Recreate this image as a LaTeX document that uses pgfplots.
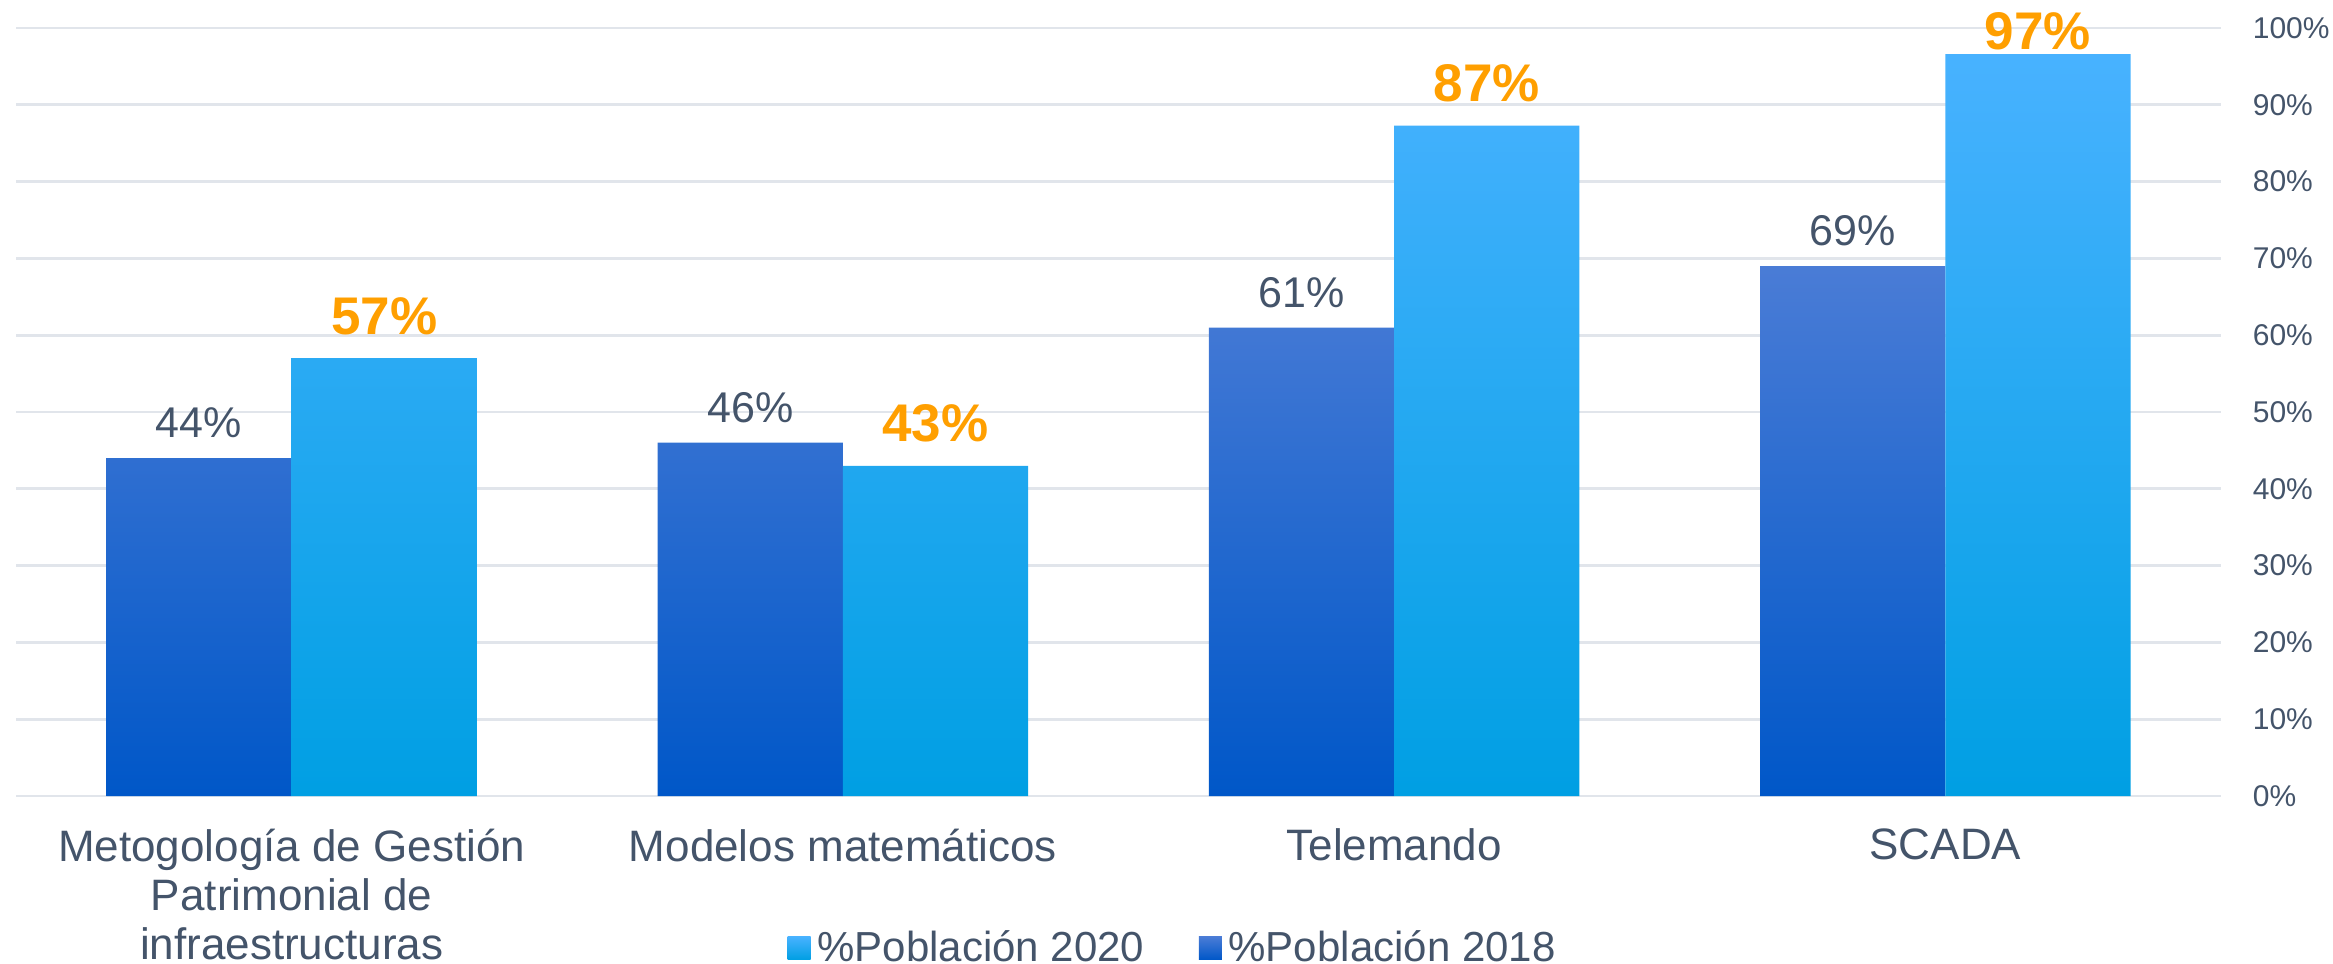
\documentclass[border=0pt]{standalone}
\usepackage{fontspec}
\setmainfont{Liberation Sans}
\usepackage{pgfplots}
\pgfplotsset{compat=1.18}

\definecolor{txt}{HTML}{44546A}
\definecolor{gridc}{HTML}{E1E5EB}
\definecolor{orange}{HTML}{FF9F00}
% 2018 bars (dark blue gradient)
\definecolor{dkTop}{HTML}{4A7CD6}
\definecolor{dkMid}{HTML}{0A67D4}
\definecolor{dkBot}{HTML}{0057C8}
% 2020 bars (light blue gradient)
\definecolor{ltTop}{HTML}{48B2FF}
\definecolor{ltMid}{HTML}{00AEFF}
\definecolor{ltBot}{HTML}{009FE3}

\begin{document}
\begin{tikzpicture}
\begin{axis}[
    scale only axis,
    width=661.5pt, height=230.4pt,
    ybar, bar width=0.336,
    xmin=-0.5, xmax=3.5,
    ymin=0, ymax=100,
    enlargelimits=false,
    clip=false,
    axis x line*=bottom, axis y line*=right,
    axis line style={draw=none},
    major tick length=0pt,
    ymajorgrids=true,
    grid style={color=gridc, line width=0.8pt},
    ytick={0,10,20,30,40,50,60,70,80,90,100},
    yticklabels={0\%,10\%,20\%,30\%,40\%,50\%,60\%,70\%,80\%,90\%,100\%},
    yticklabel style={font=\fontsize{9}{10.8}\selectfont, text=txt, xshift=6pt},
    xtick={0,1,2,3},
    xticklabels={{Metogología de Gestión\\Patrimonial de\\infraestructuras},
                 {Modelos matemáticos}, {Telemando}, {SCADA}},
    xticklabel style={align=center, text=txt,
        font=\fontsize{13.2}{14.7}\selectfont, yshift=-6.3pt},
    /pgf/number format/assume math mode=true,
    /pgf/number format/fixed, /pgf/number format/precision=0,
    nodes near coords={\pgfmathprintnumber{\pgfplotspointmeta}\%},
    legend columns=2,
    reverse legend,
    legend style={at={(0.5256,-0.231)}, anchor=south, draw=none, fill=none,
        inner sep=0pt, font=\fontsize{12.6}{14}\selectfont, text=txt,
        /tikz/every even column/.append style={column sep=14.4pt}},
    legend image code/.code={
        \path[#1] (0pt,-3.45pt) rectangle (6.9pt,3.45pt);
    },
]
\coordinate (bl) at (rel axis cs:0,0);
\coordinate (tr) at (rel axis cs:1,1);

\addplot[draw=none, bar shift=-0.168,
    top color=dkTop, middle color=dkMid, bottom color=dkBot,
    every node near coord/.append style={text=txt, inner sep=0pt,
        anchor=south, yshift=5.8pt, font=\fontsize{12.9}{14}\selectfont}]
    coordinates {(0,44) (1,46) (2,61) (3,69)};
\addlegendentry{\%Población 2018}

\addplot[draw=none, bar shift=0.168,
    top color=ltTop, middle color=ltMid, bottom color=ltBot,
    every node near coord/.append style={text=orange, inner sep=0pt,
        anchor=south, yshift=6.8pt, font=\fontsize{15.9}{17}\selectfont\bfseries},
    coordinate style/.condition={y > 90}{yshift=-5.9pt}]
    coordinates {(0,57) (1,43) (2,87.3) (3,96.6)};
\addlegendentry{\%Población 2020}
\end{axis}
\pgfresetboundingbox
\path ([shift={(-4.8pt,-50.1pt)}]bl) rectangle ([shift={(33.6pt,8.4pt)}]tr);
\end{tikzpicture}
\end{document}
